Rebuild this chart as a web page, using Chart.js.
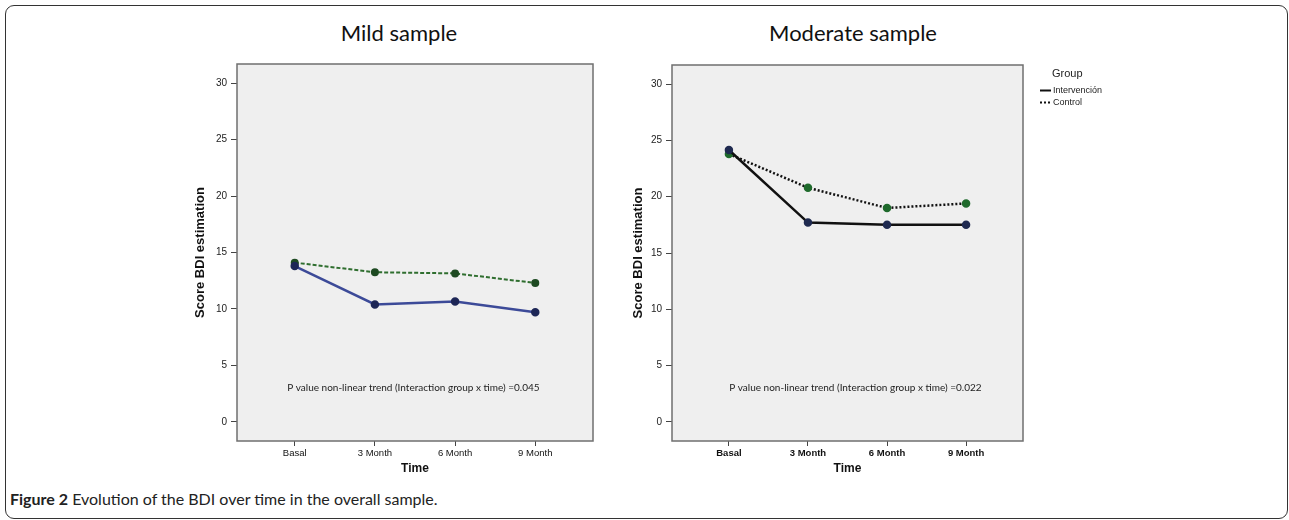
<!DOCTYPE html>
<html>
<head>
<meta charset="utf-8">
<script src="https://cdn.jsdelivr.net/npm/chart.js@4.4.0/dist/chart.umd.min.js"></script>
<style>
  html, body { margin: 0; padding: 0; background: #fff; }
  body { width: 1289px; height: 520px; position: relative; overflow: hidden; }
  .frame { position: absolute; left: 5px; top: 5px; width: 1283px; height: 514px; border: 1.5px solid #333; border-radius: 9px; box-sizing: border-box; }
  .panel-title { position: absolute; top: 19px; font-family: Lato, sans-serif; font-size: 22px; color: #111; transform: translateX(-50%); white-space: nowrap; }
  canvas { position: absolute; }
  .caption { position: absolute; left: 10px; top: 489px; font-family: Lato, sans-serif; font-size: 16px; color: #222; white-space: nowrap; }
</style>
</head>
<body>
<div class="frame"></div>
<div class="panel-title" style="left:399px">Mild sample</div>
<div class="panel-title" style="left:853px">Moderate sample</div>
<canvas id="mild" width="420" height="430" style="left:180px; top:50px"></canvas>
<canvas id="moderate" width="500" height="430" style="left:615px; top:50px"></canvas>
<div class="caption"><b>Figure 2</b> Evolution of the BDI over time in the overall sample.</div>
<script>
const categories = ['Basal', '3 Month', '6 Month', '9 Month'];
const yTicks = [0, 5, 10, 15, 20, 25, 30];
const groupLabels = ['Intervención', 'Control'];

const mildIntervencion = [13.8, 10.4, 10.65, 9.7];
const mildControl = [14.1, 13.25, 13.15, 12.3];
const moderateIntervencion = [24.15, 17.7, 17.5, 17.5];
const moderateControl = [23.8, 20.8, 19.0, 19.4];

const notes = [
    'P value non-linear trend (Interaction group x time) =0.045',
    'P value non-linear trend (Interaction group x time) =0.022'
];

const AXIS_FONT = "'Liberation Sans', Arial, sans-serif";

function toPoints(values) {
    return values.map((v, i) => ({ x: i, y: v }));
}

// plot background, box, note text and (optionally) the group legend
const plotFrame = {
    id: 'plotFrame',
    beforeDraw(chart) {
        const { ctx, chartArea: a } = chart;
        ctx.save();
        ctx.fillStyle = '#efefef';
        ctx.fillRect(a.left, a.top, a.width, a.height);
        ctx.restore();
    },
    afterDraw(chart, args, opts) {
        const { ctx, chartArea: a, scales } = chart;
        ctx.save();
        ctx.strokeStyle = '#6f6f6f';
        ctx.lineWidth = 1.5;
        ctx.strokeRect(a.left, a.top, a.width, a.height);

        ctx.fillStyle = '#222';
        ctx.font = "10px Lato, sans-serif";
        ctx.textAlign = 'center';
        ctx.textBaseline = 'middle';
        ctx.fillText(opts.note, scales.x.getPixelForValue(opts.noteX), scales.y.getPixelForValue(3));

        if (opts.legend) {
            const lx = opts.legend.x, ly = opts.legend.y;
            ctx.textAlign = 'left';
            ctx.fillStyle = '#222';
            ctx.font = "11px " + AXIS_FONT;
            ctx.fillText('Group', lx + 12, ly);
            ctx.font = "9px " + AXIS_FONT;
            chart.data.datasets.forEach((ds, i) => {
                const y = ly + 16.5 + i * 12;
                ctx.strokeStyle = ds.borderColor;
                ctx.lineWidth = 2;
                ctx.setLineDash(ds.borderDash || []);
                ctx.beginPath();
                ctx.moveTo(lx, y);
                ctx.lineTo(lx + 11, y);
                ctx.stroke();
                ctx.fillText(ds.label, lx + 13, y);
            });
        }
        ctx.restore();
    }
};

function buildScales(yTitlePad, boldTicks) {
    return {
        x: {
            type: 'linear',
            min: -0.72,
            max: 3.72,
            afterFit: s => { s.height = 39; },
            afterBuildTicks: s => { s.ticks = categories.map((c, i) => ({ value: i })); },
            ticks: {
                callback: v => categories[v],
                font: { family: AXIS_FONT, size: 9.5, weight: boldTicks ? 'bold' : 'normal' },
                color: '#111',
                padding: 2,
                maxRotation: 0,
                autoSkip: false
            },
            grid: { display: true, drawOnChartArea: false, drawTicks: true, tickLength: 5, tickColor: '#444' },
            border: { display: false },
            title: {
                display: true,
                text: 'Time',
                color: '#111',
                font: { family: AXIS_FONT, size: 12, weight: 'bold' },
                padding: { top: 0, bottom: 4 }
            }
        },
        y: {
            min: -1.7,
            max: 31.7,
            afterFit: s => { s.width = 57; },
            afterBuildTicks: s => { s.ticks = yTicks.map(v => ({ value: v })); },
            ticks: {
                font: { family: AXIS_FONT, size: 10 },
                color: '#222',
                padding: 4
            },
            grid: { display: true, drawOnChartArea: false, drawTicks: true, tickLength: 6, tickColor: '#444' },
            border: { display: false },
            title: {
                display: true,
                text: 'Score BDI estimation',
                color: '#111',
                font: { family: AXIS_FONT, size: 13, weight: 'bold' },
                padding: { top: yTitlePad, bottom: 0 }
            }
        }
    };
}

const commonPlugins = {
    legend: { display: false },
    tooltip: { enabled: false }
};

new Chart(document.getElementById('mild').getContext('2d'), {
    type: 'line',
    data: {
        datasets: [
            {
                label: groupLabels[0],
                data: toPoints(mildIntervencion),
                borderColor: '#3c4a98',
                borderWidth: 2.5,
                pointRadius: 3,
                pointBackgroundColor: '#1d2656',
                pointBorderColor: '#1d2656',
                tension: 0
            },
            {
                label: groupLabels[1],
                data: toPoints(mildControl),
                borderColor: '#2f6e2f',
                borderWidth: 2,
                borderDash: [4, 2],
                pointRadius: 3,
                pointBackgroundColor: '#1e4a22',
                pointBorderColor: '#1e4a22',
                tension: 0
            }
        ]
    },
    options: {
        responsive: false,
        animation: false,
        layout: { padding: { top: 14, right: 7, bottom: 0, left: 0 } },
        scales: buildScales(12.7, false),
        plugins: Object.assign({}, commonPlugins, {
            plotFrame: { note: notes[0], noteX: 1.48 }
        })
    },
    plugins: [plotFrame]
});

new Chart(document.getElementById('moderate').getContext('2d'), {
    type: 'line',
    data: {
        datasets: [
            {
                label: groupLabels[0],
                data: toPoints(moderateIntervencion),
                borderColor: '#111111',
                borderWidth: 2.5,
                pointRadius: 3,
                pointBackgroundColor: '#1f2a50',
                pointBorderColor: '#1f2a50',
                tension: 0
            },
            {
                label: groupLabels[1],
                data: toPoints(moderateControl),
                borderColor: '#111111',
                borderWidth: 2.5,
                borderDash: [2, 2],
                pointRadius: 3,
                pointBackgroundColor: '#1f6a2c',
                pointBorderColor: '#1f6a2c',
                tension: 0
            }
        ]
    },
    options: {
        responsive: false,
        animation: false,
        layout: { padding: { top: 15, right: 92, bottom: 0, left: 0 } },
        scales: buildScales(15.2, true),
        plugins: Object.assign({}, commonPlugins, {
            plotFrame: { note: notes[1], noteX: 1.6, legend: { x: 425, y: 24 } }
        })
    },
    plugins: [plotFrame]
});
</script>
</body>
</html>
